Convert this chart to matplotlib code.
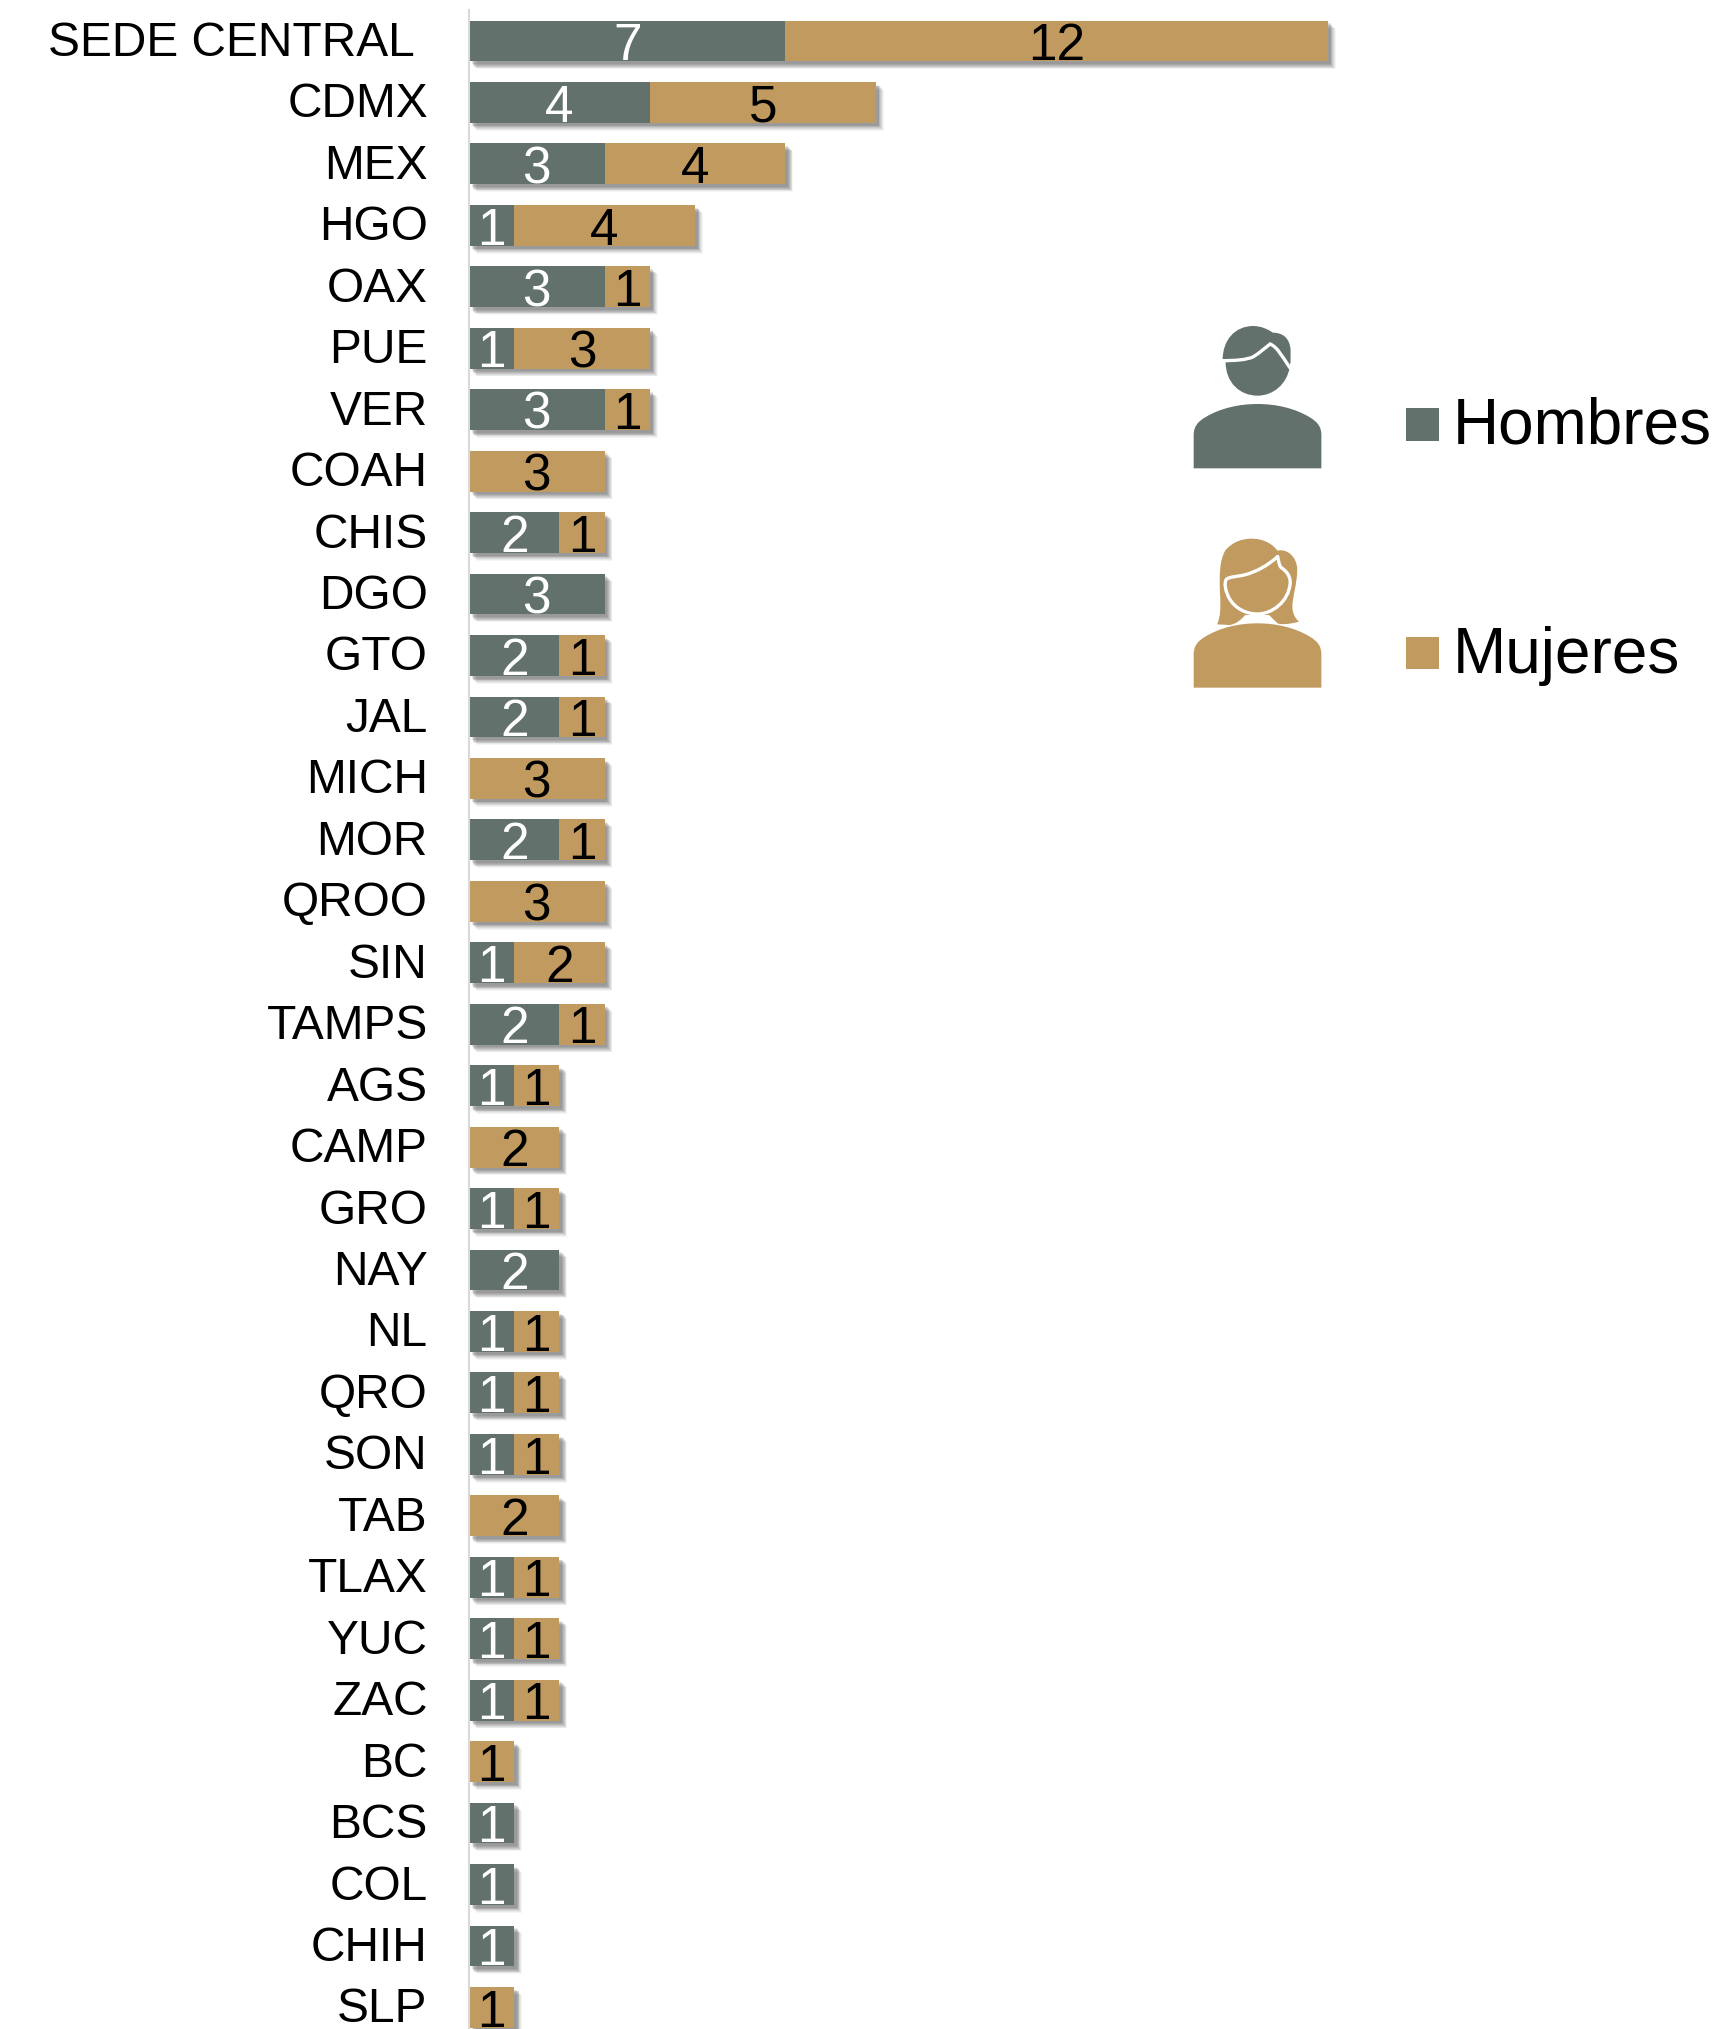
import numpy as np
import matplotlib
matplotlib.use("Agg")
import matplotlib.pyplot as plt
import matplotlib.patheffects as pe
from matplotlib.path import Path
from matplotlib.patches import PathPatch, Rectangle
from matplotlib.transforms import ScaledTranslation

estados = ["SEDE CENTRAL", "CDMX", "MEX", "HGO", "OAX", "PUE", "VER", "COAH", "CHIS", "DGO", "GTO",
           "JAL", "MICH", "MOR", "QROO", "SIN", "TAMPS", "AGS", "CAMP", "GRO", "NAY", "NL", "QRO",
           "SON", "TAB", "TLAX", "YUC", "ZAC", "BC", "BCS", "COL", "CHIH", "SLP"]
hombres = [7, 4, 3, 1, 3, 1, 3, 0, 2, 3, 2, 2, 0, 2, 0, 1, 2, 1, 0, 1, 2, 1, 1, 1, 0, 1, 1, 1, 0, 1, 1, 1, 0]
mujeres = [12, 5, 4, 4, 1, 3, 1, 3, 1, 0, 1, 1, 3, 1, 3, 2, 1, 1, 2, 1, 0, 1, 1, 1, 2, 1, 1, 1, 1, 0, 0, 0, 1]

GRIS = "#62716B"
ORO = "#C09A5F"
W, H = 1732, 2029
X0 = 469

plt.rcParams["font.family"] = ["Liberation Sans", "DejaVu Sans"]

fig = plt.figure(figsize=(W / 100, H / 100), dpi=100)
# eje en pixeles: una unidad = 45.2 px, una fila = 61.45 px
ax = fig.add_axes([X0 / W, 0, 1 - X0 / W, 1 - 10 / H])
ax.set_xlim(0, (W - X0) / 45.2)
ax.set_ylim((H - 41) / 61.45, -31 / 61.45)

sombra = [pe.SimplePatchShadow(offset=(d, -d), shadow_rgbFace="#444444", alpha=a)
          for d, a in ((5.6, 0.05), (5.0, 0.07), (4.4, 0.09), (3.8, 0.11), (3.2, 0.13), (2.6, 0.13), (2.0, 0.13))]
sombra.append(pe.Normal())

y = np.arange(len(estados))
ax.barh(y, hombres, height=0.665, color=GRIS, path_effects=sombra)
ax.barh(y, mujeres, left=hombres, height=0.665, color=ORO, path_effects=sombra)

corrido = ax.transData + ScaledTranslation(0, 1 / 100, fig.dpi_scale_trans)
for i in y:
    if hombres[i] > 0:
        ax.text(hombres[i] / 2, i + 0.02, str(hombres[i]), color="white", fontsize=37, ha="center",
                va="center_baseline", transform=corrido)
    if mujeres[i] > 0:
        ax.text(hombres[i] + mujeres[i] / 2, i + 0.02, str(mujeres[i]), color="black", fontsize=37, ha="center",
                va="center_baseline", transform=corrido)

ax.set_yticks(y)
ax.set_yticklabels(estados, fontsize=34.5, color="black", va="center_baseline")
ax.tick_params(axis="y", length=0, pad=29.7)
ax.set_xticks([])
for s in ["top", "right", "bottom"]:
    ax.spines[s].set_visible(False)
ax.spines["left"].set_color("#D9D9D9")
ax.spines["left"].set_linewidth(1.5)
subir = ScaledTranslation(0, 2.5 / 100, fig.dpi_scale_trans)
for t in ax.get_yticklabels():
    t.set_transform(t.get_transform() + subir)
# la etiqueta de la sede central queda un poco mas a la izquierda
ax.get_yticklabels()[0].set_x(-13 / (W - X0))

# capa en pixeles para iconos y leyenda
ov = fig.add_axes([0, 0, 1, 1])
ov.set_xlim(0, W)
ov.set_ylim(H, 0)
ov.axis("off")


def zp(x, y):
    # coordenadas de la ampliacion a pixeles
    return 1149.5 + x / 2.694, 300 + y / 3


def figura(partes, color, dy=0, relleno=True, lw=0):
    verts = []
    codes = []
    for p in partes:
        if p[0] == "M":
            verts.append(zp(p[1], p[2] + dy))
            codes.append(Path.MOVETO)
        elif p[0] == "L":
            verts.append(zp(p[1], p[2] + dy))
            codes.append(Path.LINETO)
        elif p[0] == "C":
            for k in (1, 3, 5):
                verts.append(zp(p[k], p[k + 1] + dy))
                codes.append(Path.CURVE4)
    if relleno:
        ov.add_patch(PathPatch(Path(verts, codes), facecolor=color, edgecolor="none"))
    else:
        ov.add_patch(PathPatch(Path(verts, codes), facecolor="none", edgecolor=color, linewidth=lw, capstyle="round"))


cuerpo = [("M", 119, 505), ("L", 119, 405), ("C", 119, 380, 130, 365, 150, 352),
          ("C", 190, 325, 240, 312, 291, 312), ("C", 342, 312, 392, 325, 432, 352),
          ("C", 452, 365, 463, 380, 463, 405), ("L", 463, 505), ("L", 119, 505)]

# hombre
figura(cuerpo, GRIS)
figura([("M", 197, 180), ("C", 197, 120, 230, 78, 280, 78), ("C", 300, 78, 320, 88, 332, 98),
        ("C", 360, 98, 378, 115, 380, 150), ("L", 380, 185), ("L", 377, 205),
        ("C", 370, 250, 335, 287, 291, 287), ("C", 245, 287, 205, 250, 205, 185), ("L", 197, 180)], GRIS)
figura([("M", 195, 182), ("C", 230, 182, 262, 180, 280, 170), ("C", 295, 160, 310, 145, 325, 132),
        ("C", 345, 142, 355, 165, 378, 203)], "white", relleno=False, lw=2.4)

# mujer
figura(cuerpo, ORO, dy=658)
figura([("M", 182, 973), ("C", 192, 950, 192, 920, 190, 880), ("C", 188, 830, 188, 780, 205, 750),
        ("C", 225, 725, 250, 716, 275, 716), ("C", 305, 716, 330, 730, 345, 752),
        ("C", 370, 745, 398, 770, 398, 810), ("C", 398, 850, 385, 890, 385, 920),
        ("C", 385, 940, 392, 955, 403, 965), ("C", 380, 972, 355, 975, 345, 970),
        ("L", 322, 945), ("L", 258, 945), ("C", 245, 960, 235, 972, 215, 975), ("L", 182, 973)], ORO)
figura([("M", 345, 770), ("C", 320, 795, 290, 815, 255, 825), ("C", 235, 830, 215, 830, 207, 838),
        ("C", 200, 850, 205, 875, 215, 895), ("C", 230, 925, 260, 942, 291, 942),
        ("C", 330, 942, 375, 905, 379, 850), ("C", 380, 825, 365, 810, 355, 803),
        ("C", 348, 795, 348, 780, 345, 770)], "white", relleno=False, lw=2.4)

# leyenda
ov.add_patch(Rectangle((1406, 408), 33, 33, facecolor=GRIS, edgecolor="none"))
ov.add_patch(Rectangle((1406, 637), 33, 32, facecolor=ORO, edgecolor="none"))
ov.text(1453, 444, "Hombres", fontsize=46, color="black", ha="left", va="baseline")
ov.text(1453, 673, "Mujeres", fontsize=46, color="black", ha="left", va="baseline")

plt.savefig("out.png", dpi=100)
plt.close()
